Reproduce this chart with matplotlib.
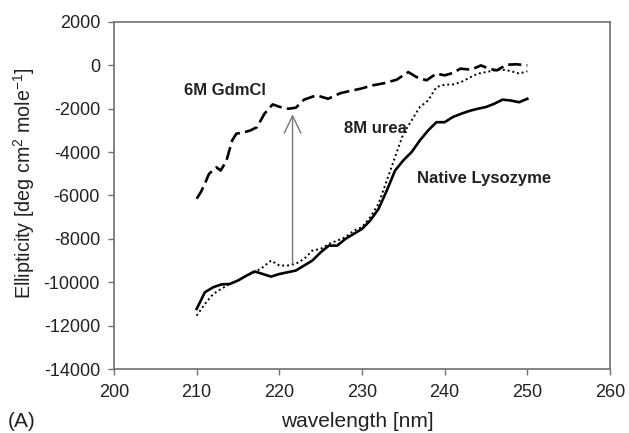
"""CD spectra of lysozyme: native vs. 8M urea vs. 6M GdmCl (panel A)."""

import matplotlib
matplotlib.use("Agg")
import matplotlib.pyplot as plt

plt.rcParams["font.family"] = ["Liberation Sans", "DejaVu Sans"]
plt.rcParams["axes.unicode_minus"] = False
plt.rcParams["mathtext.fontset"] = "custom"
plt.rcParams["mathtext.rm"] = "Liberation Sans"

# wavelength grid (nm) shared by native and urea traces
wl = list(range(210, 251))

native = [-11230, -10460, -10230, -10100, -10080, -9920, -9700, -9500, -9620, -9740,
          -9620, -9540, -9460, -9230, -9000, -8620, -8310, -8310, -8000, -7770,
          -7540, -7150, -6620, -5770, -4850, -4380, -4000, -3460, -3000, -2620,
          -2620, -2380, -2230, -2100, -2000, -1920, -1770, -1580, -1620, -1700,
          -1540]

urea = [-11540, -11000, -10540, -10300, -10080, -9920, -9700, -9540, -9310, -9000,
        -9230, -9230, -9150, -8920, -8540, -8460, -8230, -8080, -7920, -7620,
        -7460, -7000, -6380, -5310, -4230, -3150, -2540, -1920, -1620, -1000,
        -890, -880, -770, -570, -380, -310, -230, -200, -260, -380,
        -270]

gdm_wl = [210, 210.5, 211, 211.5, 212.4, 212.9, 213.6, 214.3, 214.8, 215.8,
          216.5, 217.3, 218.2, 219.2, 220.1, 221.1, 222, 223, 224.5, 225.9,
          227.4, 228.9, 229.8, 231.3, 232.7, 234.2, 235.6, 236.6, 237.8, 239,
          240, 241, 241.9, 243.2, 244.4, 245.3, 246.3, 247.5, 248.7, 250]
gdm = [-6150, -5850, -5450, -5000, -4700, -4850, -4400, -3460, -3150, -3080,
       -3000, -2850, -2230, -1800, -1920, -2000, -1950, -1580, -1380, -1540,
       -1280, -1150, -1080, -920, -820, -660, -310, -540, -690, -380,
       -460, -350, -150, -200, 0, -150, -230, 30, 50, 0]

fig = plt.figure(figsize=(6.29, 4.33), dpi=100)
ax = fig.add_axes([0.1812, 0.1478, 0.7886, 0.8014])

ax.plot(wl, native, color="black", lw=1.9, ls="-")
ax.plot(wl, urea, color="black", lw=1.4, ls=(0, (1, 1.5)))
ax.plot(gdm_wl, gdm, color="black", lw=1.9, ls=(0, (5, 2)))

# arrow from the urea trace up to the GdmCl trace (open V head)
ax.annotate("", xy=(221.6, -2250), xytext=(221.6, -9150),
            arrowprops=dict(arrowstyle="->,head_length=1.25,head_width=0.6",
                            color="#777777", lw=1.0, shrinkA=0, shrinkB=0))

ax.text(208.5, -1150, "6M GdmCl", fontsize=12, fontweight="bold", va="center",
        color="#222222")
ax.text(227.8, -2920, "8M urea", fontsize=12, fontweight="bold", va="center",
        color="#222222")
ax.text(236.6, -5230, "Native Lysozyme", fontsize=12, fontweight="bold",
        va="center", color="#222222")

ax.set_xlim(200, 260)
ax.set_ylim(-14000, 2000)
ax.set_xticks(range(200, 261, 10))
ax.set_yticks(range(-14000, 2001, 2000))
ax.tick_params(direction="out", length=4, width=1, color="#707070",
               labelsize=13, labelcolor="#222222")
ax.tick_params(axis="y", pad=6)
ax.tick_params(axis="x", pad=7)
for sp in ax.spines.values():
    sp.set_color("#707070")
    sp.set_linewidth(1.2)

ax.set_ylabel("Ellipticity [deg cm$^{\\mathrm{2}}$ mole$^{\\mathrm{-1}}$]",
              fontsize=14.2, color="#222222", va="center", ha="center")
ax.yaxis.set_label_coords(-0.1815, 0.536)
ax.set_xlabel("wavelength [nm]", fontsize=15, color="#222222", va="center")
ax.xaxis.set_label_coords(0.49, -0.152)
fig.text(0.012, 0.027, "(A)", fontsize=15, ha="left", va="center", color="#222222")

fig.savefig("out.png", dpi=100, facecolor="white")
